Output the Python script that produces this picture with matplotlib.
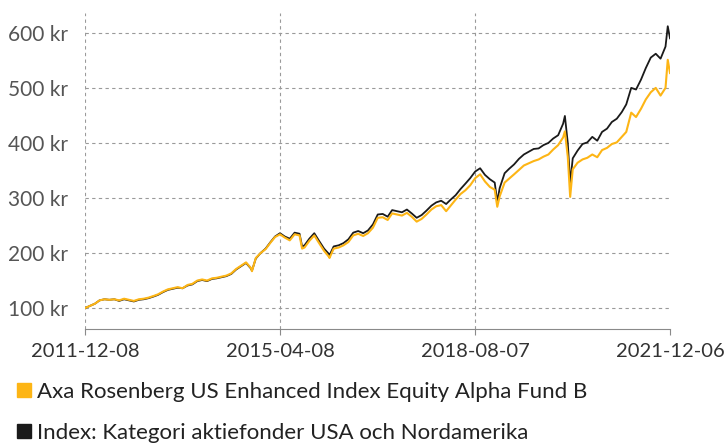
import matplotlib.pyplot as plt
from matplotlib.lines import Line2D
import pandas as pd

# monthly observations on the 8th, 2011-12 .. 2021-12
monthly_dates = pd.date_range("2011-12-01", "2021-12-01", freq="MS") + pd.Timedelta(days=7)

index_monthly = [100, 104, 108, 114, 116, 115, 116, 113, 116, 114, 112, 115,
                 116, 118, 121, 124, 129, 133, 135, 137, 136, 141, 143, 149,
                 151, 149, 153, 154, 156, 158, 162, 170, 176, 182, 172, 190,
                 200, 208, 220, 230, 236, 230, 226, 237, 235, 214, 226, 236,
                 222, 208, 198, 212, 214, 218, 225, 237, 240, 236, 241, 252,
                 270, 271, 266, 278, 276, 274, 279, 272, 264, 269, 277, 286,
                 292, 295, 289, 297, 305, 316, 326, 336, 348, 354, 342, 334,
                 328, 318, 345, 353, 361, 371, 379, 384, 389, 390, 396, 400,
                 408, 414, 435, 400, 372, 386, 398, 401, 411, 404, 420, 426,
                 438, 444, 456, 470, 500, 497, 515, 536, 555, 562, 553, 575,
                 590]

fund_monthly = [100, 104, 108, 114, 116, 115, 116, 114, 117, 115, 113, 116,
                117, 119, 122, 125, 130, 134, 136, 138, 136, 142, 144, 150,
                152, 150, 154, 155, 157, 159, 163, 171, 177, 183, 173, 191,
                200, 207, 219, 229, 234, 228, 223, 234, 232, 210, 222, 232,
                218, 204, 193, 208, 210, 214, 220, 232, 235, 231, 236, 246,
                264, 265, 260, 272, 270, 268, 273, 266, 257, 262, 270, 279,
                285, 287, 276, 286, 297, 307, 314, 323, 336, 343, 330, 320,
                315, 303, 328, 335, 343, 351, 359, 363, 367, 370, 375, 379,
                388, 396, 410, 375, 352, 364, 370, 373, 379, 374, 387, 391,
                398, 401, 411, 420, 455, 447, 462, 479, 492, 500, 486, 500,
                527]

# extra daily points at the sharp turns
extra_dates = pd.to_datetime(["2014-10-15", "2015-08-24", "2016-02-11",
                              "2018-12-24", "2020-02-19", "2020-03-23", "2021-11-22"])
index_extra = [168, 212, 196, 293, 449, 327, 612]
fund_extra = [167, 208, 191, 284, 421, 302, 551]

dates = monthly_dates[:-1].append(pd.DatetimeIndex(["2021-12-06"]))
index_s = pd.concat([pd.Series(index_monthly, index=dates),
                     pd.Series(index_extra, index=extra_dates)]).sort_index()
fund_s = pd.concat([pd.Series(fund_monthly, index=dates),
                    pd.Series(fund_extra, index=extra_dates)]).sort_index()

xticks = pd.to_datetime(["2011-12-08", "2015-04-08", "2018-08-07", "2021-12-06"])
yticks = [100, 200, 300, 400, 500, 600]

fund_label = "Axa Rosenberg US Enhanced Index Equity Alpha Fund B"
index_label = "Index: Kategori aktiefonder USA och Nordamerika"
yellow = "#FDB515"
black = "#1a1a1a"

plt.rcParams['font.family'] = ['Lato', 'DejaVu Sans']

fig = plt.figure(figsize=(7.25, 4.45), dpi=100)
ax = fig.add_axes([85 / 725, 116 / 445, 585 / 725, 316 / 445])

ax.plot(fund_s.index, fund_s.values, color=yellow, lw=1.5, zorder=3)
ax.plot(index_s.index, index_s.values, color=black, lw=1.3, zorder=2)

ax.set_xlim(xticks[0], xticks[-1])
ax.set_ylim(62, 636)
ax.set_xticks(xticks)
ax.set_xticklabels([d.strftime("%Y-%m-%d") for d in xticks])
ax.set_yticks(yticks)
ax.set_yticklabels([f"{v} kr" for v in yticks])

ax.grid(True, color="#9a9a9a", lw=0.8, linestyle=(0, (3, 3)))
ax.xaxis.get_gridlines()[-1].set_visible(False)
ax.set_axisbelow(True)

for s in ["top", "right", "left"]:
    ax.spines[s].set_visible(False)
ax.spines["bottom"].set_color("#8a8a8a")
ax.tick_params(axis="y", length=0, pad=12, labelsize=15, labelcolor="#555555")
ax.tick_params(axis="x", length=4, color="#8a8a8a", pad=6, labelsize=14.5, labelcolor="#333333")

handles = [Line2D([], [], marker="s", color="none", markerfacecolor=yellow,
                  markeredgecolor=yellow, markersize=10),
           Line2D([], [], marker="s", color="none", markerfacecolor=black,
                  markeredgecolor=black, markersize=10)]
fig.legend(handles, [fund_label, index_label], loc="lower left",
           bbox_to_anchor=(-0.005, -0.04), frameon=False, fontsize=16,
           handlelength=0.7, handletextpad=0.25, labelspacing=0.95,
           labelcolor="#222222")

fig.savefig("out.png", dpi=100)
